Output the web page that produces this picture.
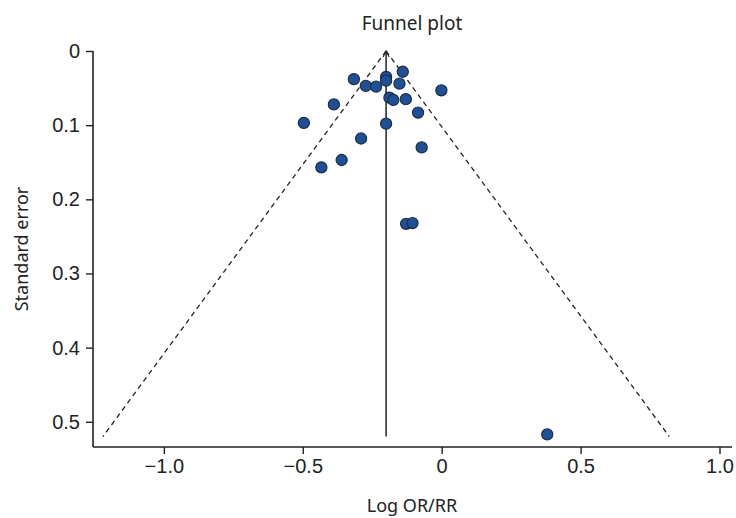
<!DOCTYPE html>
<html>
<head>
<meta charset="utf-8">
<script src="https://cdn.jsdelivr.net/npm/d3@7"></script>
<style>
  html, body { margin: 0; padding: 0; background: #fff; }
  svg { display: block; }
</style>
</head>
<body>
<svg id="chart"></svg>
<script>
// study effect sizes (log OR/RR) and standard errors
const logEffect = [
  -0.316, -0.200, -0.140, -0.273, -0.236, -0.200, -0.152, -0.001,
  -0.388, -0.188, -0.174, -0.129, -0.085, -0.496, -0.200, -0.290,
  -0.072, -0.360, -0.433, -0.128, -0.105, 0.380,
];
const stdError = [
  0.038, 0.035, 0.028, 0.047, 0.048, 0.040, 0.044, 0.053,
  0.072, 0.063, 0.066, 0.065, 0.083, 0.097, 0.098, 0.118,
  0.130, 0.147, 0.157, 0.233, 0.232, 0.517,
];
const pooled = -0.2;
const maxSE = 0.52;
const xTicks = [-1.0, -0.5, 0, 0.5, 1.0];
const yTicks = [0, 0.1, 0.2, 0.3, 0.4, 0.5];

const dims = {
  width: 736,
  height: 518,
  left: 93,
  right: 732,
  top: 51,
  bottom: 447,
};

const svg = d3
  .select("#chart")
  .attr("width", dims.width)
  .attr("height", dims.height)
  .attr("viewBox", [0, 0, dims.width, dims.height]);

const xScale = d3
  .scaleLinear()
  .domain([-1.255, 1.045])
  .range([dims.left, dims.right]);

const yScale = d3
  .scaleLinear()
  .domain([0, 0.534])
  .range([dims.top, dims.bottom]);

const ink = "#222";
const tickFont = "'Liberation Sans', Arial, sans-serif";
const labelFont = "'Noto Sans', 'Open Sans', sans-serif";

// arrow head for the pooled line
svg
  .append("defs")
  .append("marker")
  .attr("id", "arrow")
  .attr("viewBox", "0 0 10 10")
  .attr("refX", 9)
  .attr("refY", 5)
  .attr("markerWidth", 5)
  .attr("markerHeight", 5)
  .attr("orient", "auto")
  .append("path")
  .attr("d", "M1,1 L9,5 L1,9")
  .attr("fill", "none")
  .attr("stroke", ink)
  .attr("stroke-width", 1.4);

// x axis
svg
  .append("g")
  .attr("transform", `translate(0,${dims.bottom})`)
  .call(
    d3
      .axisBottom(xScale)
      .tickValues(xTicks)
      .tickSize(7)
      .tickPadding(5)
      .tickFormat((d) => (d === 0 ? "0" : d3.format(".1f")(d).replace("-", "\u2212")))
  )
  .call((g) => {
    g.select("path.domain")
      .attr("d", `M${dims.left},0H${dims.right}`)
      .attr("stroke", ink)
      .attr("stroke-width", 1.6);
    g.selectAll(".tick line").attr("stroke", ink).attr("stroke-width", 1.4);
    g.selectAll(".tick text")
      .attr("font-size", 20)
      .attr("font-family", tickFont)
      .attr("fill", ink);
  });

// y axis
svg
  .append("g")
  .attr("transform", `translate(${dims.left},0)`)
  .call(
    d3
      .axisLeft(yScale)
      .tickValues(yTicks)
      .tickSize(7)
      .tickPadding(6)
      .tickFormat((d) => (d === 0 ? "0" : d3.format(".1f")(d)))
  )
  .call((g) => {
    g.select("path.domain")
      .attr("d", `M0,${yScale(0)}V${dims.bottom}`)
      .attr("stroke", ink)
      .attr("stroke-width", 1.6);
    g.selectAll(".tick line").attr("stroke", ink).attr("stroke-width", 1.4);
    g.selectAll(".tick text")
      .attr("font-size", 20)
      .attr("font-family", tickFont)
      .attr("fill", ink);
  });

// pseudo confidence limits
const funnel = svg.append("g").attr("id", "funnel");
[-1, 1].forEach((side) => {
  funnel
    .append("line")
    .attr("x1", xScale(pooled))
    .attr("y1", yScale(0))
    .attr("x2", xScale(pooled + side * 1.96 * maxSE))
    .attr("y2", yScale(maxSE))
    .attr("stroke", ink)
    .attr("stroke-width", 1.3)
    .attr("stroke-dasharray", "5,4");
});

// pooled estimate
funnel
  .append("line")
  .attr("x1", xScale(pooled))
  .attr("y1", yScale(maxSE))
  .attr("x2", xScale(pooled))
  .attr("y2", yScale(0))
  .attr("stroke", ink)
  .attr("stroke-width", 1.5)
  .attr("marker-end", "url(#arrow)");

// studies
svg
  .append("g")
  .attr("id", "studies")
  .selectAll("circle")
  .data(d3.zip(logEffect, stdError))
  .join("circle")
  .attr("cx", (d) => xScale(d[0]))
  .attr("cy", (d) => yScale(d[1]))
  .attr("r", 5.6)
  .attr("fill", "#1d5096")
  .attr("stroke", "#1b2a44")
  .attr("stroke-width", 1.1);

// titles
svg
  .append("text")
  .attr("x", 412)
  .attr("y", 30)
  .attr("text-anchor", "middle")
  .attr("font-size", 19)
  .attr("font-family", labelFont)
  .attr("fill", ink)
  .text("Funnel plot");

svg
  .append("text")
  .attr("x", 412)
  .attr("y", 512)
  .attr("text-anchor", "middle")
  .attr("font-size", 18)
  .attr("font-family", labelFont)
  .attr("fill", ink)
  .text("Log OR/RR");

svg
  .append("text")
  .attr("transform", `translate(28,${(dims.top + dims.bottom) / 2}) rotate(-90)`)
  .attr("text-anchor", "middle")
  .attr("font-size", 18)
  .attr("font-family", labelFont)
  .attr("fill", ink)
  .text("Standard error");
</script>
</body>
</html>
